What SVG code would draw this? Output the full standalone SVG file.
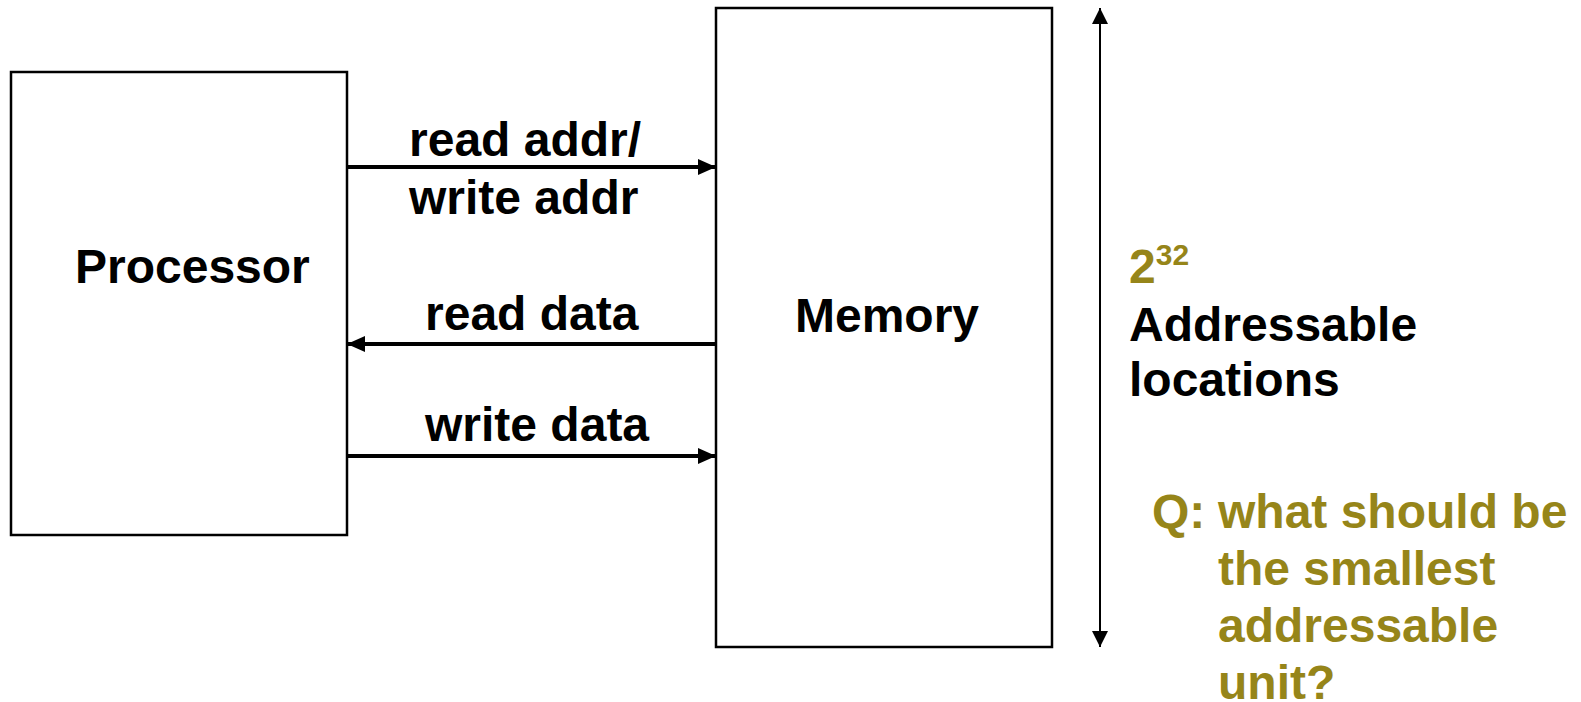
<svg xmlns="http://www.w3.org/2000/svg" width="1581" height="702" viewBox="0 0 1581 702">
  <style>
    .box { fill: #ffffff; stroke: #000000; stroke-width: 2.5; }
    .lbl { font-family: "Liberation Sans", Arial, sans-serif; font-weight: bold; font-size: 48px; fill: #000000; }
    .olive { fill: #968519; }
    .bus { stroke: #000000; stroke-width: 4; fill: none; }
    .span { stroke: #000000; stroke-width: 2; fill: none; }
  </style>
  <defs>
    <marker id="busHead" markerUnits="userSpaceOnUse" markerWidth="18" markerHeight="16" refX="18" refY="8" orient="auto">
      <path d="M0,0 L18,8 L0,16 Z" fill="#000000"/>
    </marker>
    <marker id="spanHead" markerUnits="userSpaceOnUse" markerWidth="16" markerHeight="16" refX="16" refY="8" orient="auto-start-reverse">
      <path d="M0,0 L16,8 L0,16 Z" fill="#000000"/>
    </marker>
  </defs>

  <rect width="1581" height="702" fill="#ffffff"/>

  <g id="processor">
    <rect class="box" x="11" y="72" width="336" height="463"/>
    <text class="lbl" x="75" y="283">Processor</text>
  </g>

  <g id="memory">
    <rect class="box" x="716" y="8" width="336" height="639"/>
    <text class="lbl" x="795" y="332">Memory</text>
  </g>

  <g id="connectors">
    <line class="bus" x1="347" y1="167" x2="716" y2="167" marker-end="url(#busHead)"/>
    <line class="bus" x1="716" y1="344" x2="347" y2="344" marker-end="url(#busHead)"/>
    <line class="bus" x1="347" y1="456" x2="716" y2="456" marker-end="url(#busHead)"/>
    <line class="span" x1="1100" y1="8" x2="1100" y2="647" marker-start="url(#spanHead)" marker-end="url(#spanHead)"/>
  </g>

  <g id="bus-labels">
    <text class="lbl" x="409" y="156">read addr/</text>
    <text class="lbl" x="409" y="214">write addr</text>
    <text class="lbl" x="425" y="330">read data</text>
    <text class="lbl" x="425" y="441">write data</text>
  </g>

  <g id="capacity">
    <text class="lbl olive" x="1129" y="283">2<tspan font-size="30" dy="-18">32</tspan></text>
    <text class="lbl" x="1129" y="341">Addressable</text>
    <text class="lbl" x="1129" y="396">locations</text>
  </g>

  <g id="question">
    <text class="lbl olive" x="1152" y="528">Q:</text>
    <text class="lbl olive" x="1218" y="528">what should be</text>
    <text class="lbl olive" x="1218" y="585">the smallest</text>
    <text class="lbl olive" x="1218" y="642">addressable</text>
    <text class="lbl olive" x="1218" y="699">unit?</text>
  </g>
</svg>
